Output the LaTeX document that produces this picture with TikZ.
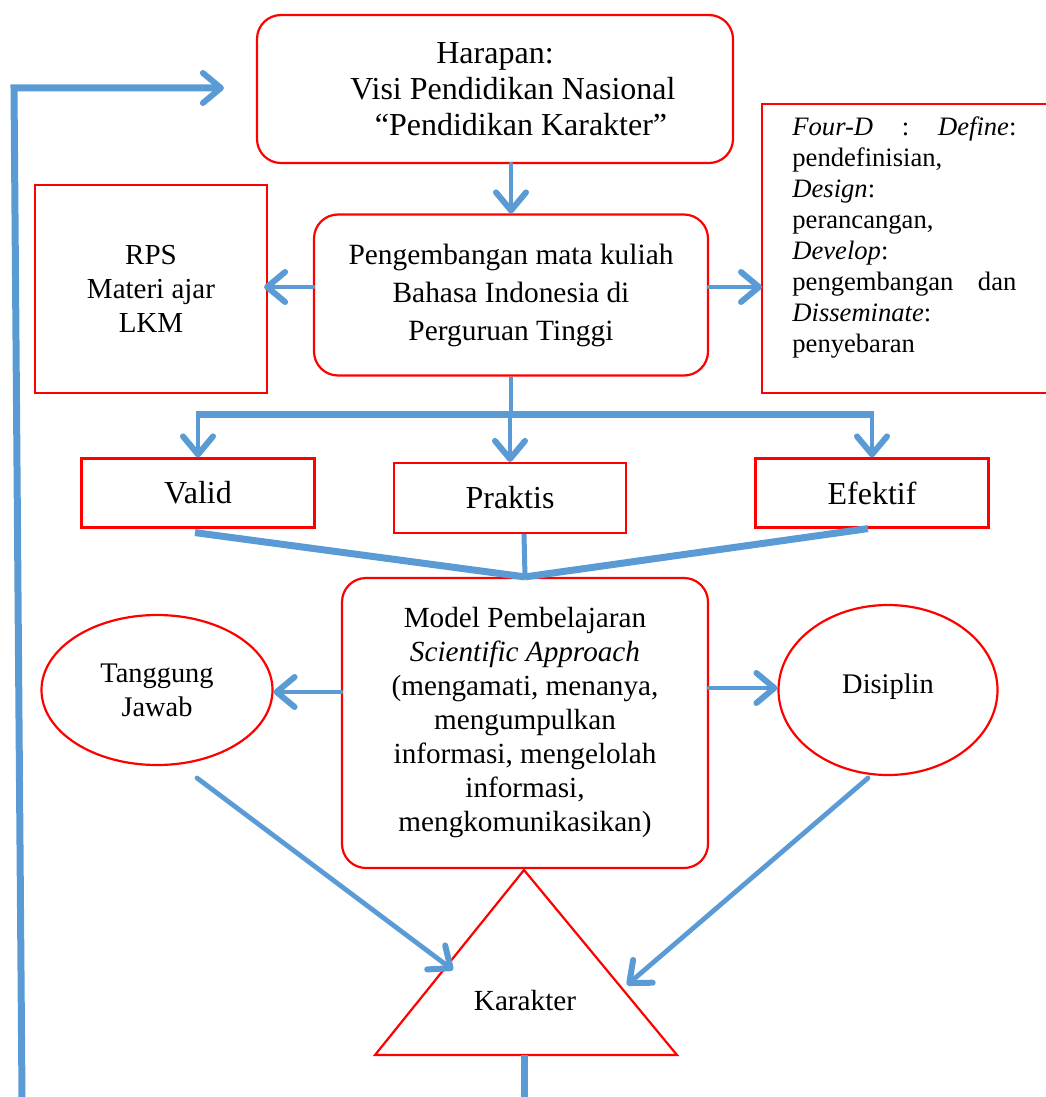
\documentclass[tikz,border=0pt]{standalone}
\usepackage{fontspec}
\setmainfont{Liberation Serif}[ItalicFont={Liberation Serif Italic}]
\usetikzlibrary{arrows.meta,shapes.geometric}
\definecolor{lineblue}{RGB}{91,155,213}

\begin{document}
\begin{tikzpicture}[x=0.5pt,y=-0.5pt,
    box/.style={draw=red,line width=1.1pt,align=center,inner sep=0pt},
    rbox/.style={box,rounded corners=12pt},
    oval/.style={draw=red,line width=1.1pt,ellipse,align=center,inner sep=0pt},
    arr/.style={draw=lineblue,line width=2.4pt,line cap=round,-{Straight Barb[length=9pt,width=15pt,line width=3pt,round]}},
    bar/.style={draw=lineblue,line width=3.5pt}]

        \useasboundingbox (0,0) rectangle (1045,1097);

        \coordinate (fd nw) at (762,104);
        \coordinate (fd sw) at (762,393);
        \coordinate (split) at (511,414);
        \coordinate (apex) at (524,870);
        \coordinate (bl) at (375,1055);
        \coordinate (br) at (677,1055);
        \coordinate (base) at (524,1055);
        \coordinate (bottom) at (524,1097);
        \coordinate (loop start) at (22,1097);
        \coordinate (loop corner) at (14,88);
        \coordinate (tj end) at (453,970);
        \coordinate (ds end) at (627,985);

        \node[rbox,minimum width=238pt,minimum height=74pt,font=\fontsize{16}{18}\selectfont] (harapan) at (495,89)
            {Harapan:\\ \hspace*{18pt}Visi Pendidikan Nasional\\ \hspace*{26pt}``Pendidikan Karakter''};
        \node[rbox,minimum width=197pt,minimum height=80.5pt,font=\fontsize{14.7}{19}\selectfont] (pengembangan) at (511,295)
            {Pengembangan mata kuliah\\ Bahasa Indonesia di\\ Perguruan Tinggi};
        \node[box,minimum width=116pt,minimum height=104pt,font=\fontsize{14.5}{17}\selectfont] (rps) at (151,289)
            {RPS\\ Materi ajar\\ LKM};
        \node[anchor=north west,inner sep=0pt,text width=112pt,align=left,font=\fontsize{13.3}{15.5}\selectfont] (fourd) at (792,116)
            {\makebox[112pt][l]{\textit{Four-D}\hfill:\hfill\textit{Define}:}\\
             pendefinisian,\\
             \textit{Design}:\\
             perancangan,\\
             \textit{Develop}:\\
             \makebox[112pt][l]{pengembangan\hfill dan}\\
             \textit{Disseminate}:\\
             penyebaran};
        \draw[red,line width=1.1pt] (1046,104) -- (fd nw) -- (fd sw) -- (1046,393);

        \node[box,minimum width=116.5pt,minimum height=34.5pt,font=\fontsize{16}{18}\selectfont] (valid) at (198,493) {Valid};
        \node[box,minimum width=116pt,minimum height=35pt,font=\fontsize{16}{18}\selectfont] (praktis) at (510,498) {Praktis};
        \node[box,minimum width=116.5pt,minimum height=34.5pt,font=\fontsize{16}{18}\selectfont] (efektif) at (872,493) {Efektif};

        \node[rbox,minimum width=183pt,minimum height=145pt,font=\fontsize{14.6}{17}\selectfont] (model) at (525,723)
            {Model Pembelajaran\\ \textit{Scientific Approach}\\ (mengamati, menanya,\\ mengumpulkan\\
             informasi, mengelolah\\ informasi,\\ mengkomunikasikan)};
        \node[oval,minimum width=115.5pt,minimum height=75pt,font=\fontsize{14.2}{17}\selectfont] (tanggung) at (157,690)
            {Tanggung\\ Jawab};
        \node[oval,minimum width=109.5pt,minimum height=85pt,font=\fontsize{14.2}{17}\selectfont] (disiplin) at (888,690)
            {\raisebox{6pt}{Disiplin}};

        \draw[red,line width=1.1pt] (apex) -- (bl) -- (br) -- cycle;
        \node[font=\fontsize{14.6}{17}\selectfont] (karakter) at (525,1000) {Karakter};

        % top part
        \draw[arr] (harapan.south -| pengembangan.north) -- (pengembangan.north);
        \draw[arr,shorten >=-2pt] ([yshift=4pt]pengembangan.west) -- ([yshift=4pt]pengembangan.west -| rps.east);
        \draw[arr] ([yshift=4pt]pengembangan.east) -- ([yshift=4pt]pengembangan.east -| fd nw);

        % branches
        \draw[draw=lineblue,line width=2.2pt] (pengembangan.south) -- (split);
        \draw[bar] ([xshift=-1pt]valid.north |- split) -- ([xshift=1pt]efektif.north |- split);
        \draw[arr,line width=2.2pt] (valid.north |- split) -- (valid.north);
        \draw[arr,line width=2.2pt] (praktis.north |- split) -- (praktis.north);
        \draw[arr,line width=2.2pt] (efektif.north |- split) -- (efektif.north);

        \draw[bar] ([xshift=-1.5pt,yshift=-2pt]valid.south) -- (model.north);
        \draw[bar] ([xshift=-2pt]efektif.south) -- (model.north);
        \draw[draw=lineblue,line width=2.5pt] ([xshift=7pt]praktis.south) -- (model.north);

        % model to ovals
        \draw[arr] ([yshift=15.5pt]model.west) -- ([yshift=15.5pt]model.west -| tanggung.east);
        \draw[arr] ([yshift=17.5pt]model.east) -- ([yshift=17.5pt]model.east -| disiplin.west);
        \draw[arr] ([xshift=20pt,yshift=-44pt]tanggung.center) -- (tj end);
        \draw[arr] ([xshift=-10pt,yshift=-44pt]disiplin.center) -- (ds end);

        % bottom and loop
        \draw[bar,line width=3.5pt] (base) -- (bottom);
        \draw[arr,line width=3.5pt,shorten >=16pt] (loop start) -- (loop corner) -- (loop corner -| harapan.west);
\end{tikzpicture}
\end{document}
